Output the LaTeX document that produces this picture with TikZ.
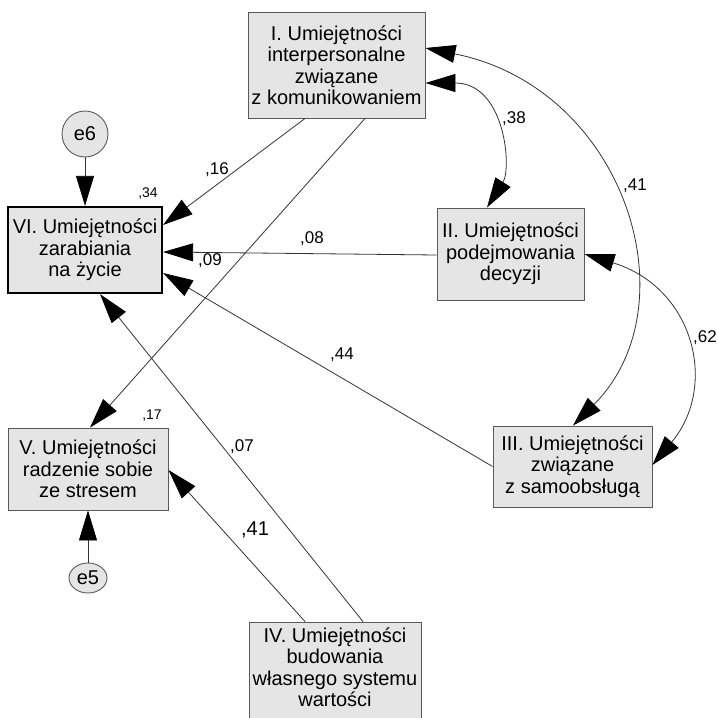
\documentclass[tikz,border=0pt]{standalone}
\usepackage{fontspec}
\setmainfont{Liberation Sans}
\usetikzlibrary{arrows.meta,shapes.geometric}

\begin{document}
\begin{tikzpicture}[x=1pt,y=-1pt,
    skala/.style={draw=black!65, line width=0.9pt, fill=black!10, align=center,
      inner sep=0pt, font=\fontsize{20}{21.5}\selectfont},
    blad/.style={draw=black!65, line width=0.9pt, fill=black!10, inner sep=0pt,
      font=\fontsize{20}{21.5}\selectfont},
    sciezka/.style={draw=black!80, line width=0.8pt, -{Triangle[length=30pt,width=18pt,black]}},
    korel/.style={draw=black!80, line width=0.8pt,
      {Triangle[length=30pt,width=18pt,black]}-{Triangle[length=30pt,width=18pt,black]}},
    wsp/.style={font=\fontsize{17}{17}\selectfont},
    wspmaly/.style={font=\fontsize{14}{14}\selectfont}]
			\useasboundingbox (0,0) rectangle (717,718);

			% Skale umiejetnosci
			\node[skala, minimum width=177pt, minimum height=106pt] (um1) at (336.5,65)
			  {I. Umiejętności\\interpersonalne\\związane\\z komunikowaniem};
			\node[skala, minimum width=147pt, minimum height=92pt] (um2) at (510.5,254)
			  {II. Umiejętności\\podejmowania\\decyzji};
			\node[skala, minimum width=159pt, minimum height=81pt] (um3) at (572.5,466.5)
			  {III. Umiejętności\\związane\\z samoobsługą};
			\node[skala, minimum width=172pt, minimum height=100pt, text depth=10pt] (um4) at (335,672)
			  {IV. Umiejętności\\budowania\\własnego systemu\\wartości};
			\node[skala, minimum width=160pt, minimum height=82pt] (um5) at (88,469)
			  {V. Umiejętności\\radzenie sobie\\ze stresem};
			\node[skala, draw=black, line width=2.2pt, minimum width=154pt, minimum height=86pt] (um6) at (85,250)
			  {VI. Umiejętności\\zarabiania\\na życie};

			% Bledy
			\node[blad, circle, minimum size=46pt] (e6) at (85,134) {e6};
			\node[blad, ellipse, minimum width=38pt, minimum height=30pt] (e5) at (88,578) {e5};

			% Sciezki
			\draw[sciezka] (e6) -- (um6);
			\draw[sciezka] (e5) -- (um5);
			\draw[sciezka] ([xshift=-31.5pt]um1.south) -- ([yshift=25pt]um6.east);
			\draw[sciezka] ([xshift=28.5pt]um1.south) -- ([xshift=2pt]um5.north);
			\draw[sciezka] ([yshift=-1pt]um2.west) -- ([yshift=-2pt]um6.east);
			\draw[sciezka] (um3.west) -- ([yshift=-23pt]um6.east);
			\draw[sciezka] ([xshift=28pt]um4.north) -- ([xshift=15pt]um6.south);
			\draw[sciezka] ([xshift=-30pt]um4.north) -- ([yshift=-1pt]um5.east);

			% Korelacje
			\draw[korel] ([yshift=-18pt]um1.east) .. controls (505,83) and (512,168) .. ([xshift=-23.5pt]um2.north);
			\draw[korel] ([yshift=17pt]um1.east) .. controls (625,88) and (693,305) .. ([xshift=0.5pt]um3.north);
			\draw[korel] (um2.east) .. controls (695,288) and (718,387) .. ([yshift=1.5pt]um3.east);

			% Wspolczynniki
			\node[wspmaly] (r6) at (148,194) {,34};
			\node[wspmaly] (r5) at (152,416) {,17};
			\node[wsp] (w16) at (217,170) {,16};
			\node[wsp] (w09) at (210,261) {,09};
			\node[wsp] (w08) at (312,239) {,08};
			\node[wsp] (w44) at (342,355) {,44};
			\node[wsp] (w07) at (242,447) {,07};
			\node[wsp, font=\fontsize{20}{20}\selectfont] (w41a) at (255,530) {,41};
			\node[wsp] (w38) at (514,119) {,38};
			\node[wsp] (w41b) at (635,186) {,41};
			\node[wsp] (w62) at (705,338) {,62};

\end{tikzpicture}
\end{document}
